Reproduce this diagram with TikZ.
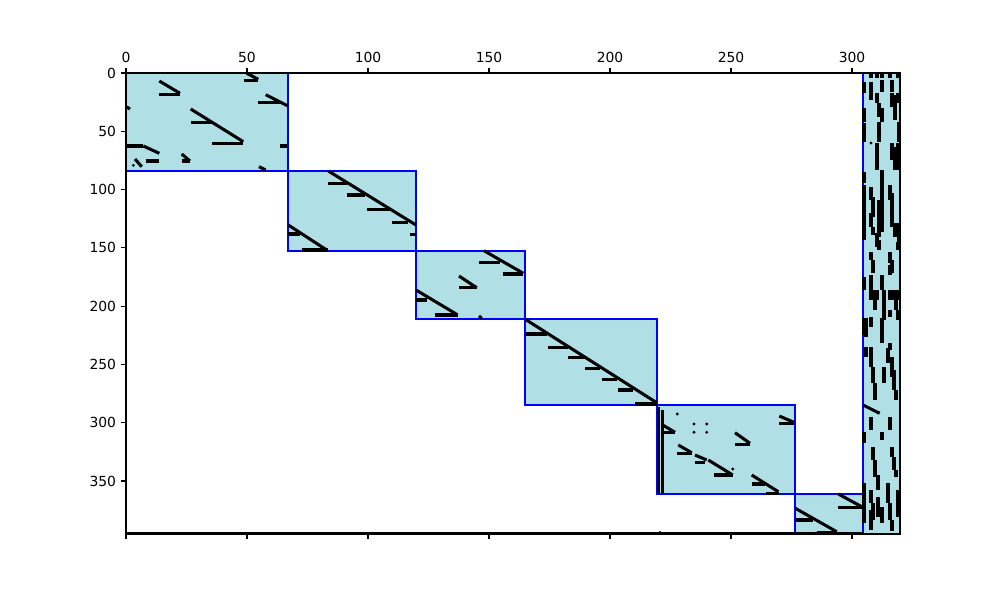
\documentclass[tikz,border=0pt]{standalone}
\usepackage{fontspec}
\setmainfont{DejaVu Sans}
\begin{document}
\begin{tikzpicture}[x=0.72pt,y=-0.72pt,font=\fontsize{10}{12}\selectfont]
\definecolor{pblue}{RGB}{176,224,230}
\tikzset{
  blk/.style={fill=pblue,draw=blue,line width=0.8pt},
  sp/.style={line width=2.2pt,black},
  spv/.style={line width=2.6pt,black},
  dotm/.style={fill=black,draw=none},
  axisline/.style={line width=0.8pt,black},
  tk/.style={line width=0.8pt,black},
  lbl/.style={inner sep=0pt,font=\fontsize{10}{12}\selectfont}
}
\useasboundingbox (0,0) rectangle (1000,600);
% blocks
\path[blk] (126,73) rectangle (288,171);
\path[blk] (288,171) rectangle (416,251);
\path[blk] (416,251) rectangle (525,319);
\path[blk] (525,319) rectangle (657,405);
\path[blk] (657,405) rectangle (795,494);
\path[blk] (795,494) rectangle (863,534);
\path[blk] (863,73) rectangle (900,534);
% sparsity segments
\foreach \a/\b/\c/\d in {
 246.7/73.3/258.3/79.3, 244.3/80.7/258.3/80.7, 159.3/81/180/93.3, 159.3/94.3/180/94.3,
 126.7/107/130/109, 265.7/94.7/287.3/105.7, 258.3/102.3/281.7/102.3,
 190.7/109/243.3/141.7, 190.7/122.3/213.3/122.3, 212.3/143.3/243.3/143.3,
 280.3/146/287.3/146, 126.7/146/143.3/146, 143.3/146/159.3/153.3,
 135/159/141.7/166.7, 145.7/161/159.3/161, 181.7/154/190/161, 181.7/161/190/161,
 259/166.7/265.7/170,
 328.3/171/416/225, 328.3/183.3/346.7/183.3, 346.7/195/365/195, 367.3/209.3/390/209.3,
 391.7/222.3/408.3/222.3, 410/234.3/416/234.3, 288.3/225/326.7/250, 288.3/234/300/234,
 301.7/250/328.3/250,
 484/250.7/523.3/273.3, 479/262.3/500/262.3, 502.7/274/523.3/274, 459/276/476.7/287.7,
 459/287.7/476.7/287.7, 416/290/456.7/314.3, 416/300/426.7/300, 435/315/458.3/315,
 479/316/481.7/318.3,
 525.3/319.3/656.7/402.7, 525.3/334/546.7/334, 548.3/347.3/568.3/347.3,
 568.3/357.3/585/357.3, 585/368.3/600/368.3, 601.7/379.3/616.7/379.3,
 618.3/390/633.3/390, 635/404/656.7/404,
 658.3/407/658.3/493, 662.3/410/662.3/493,
 662.7/425/675/432.3, 662.7/432.3/675/432.3, 779.3/416/794/422.3, 779.3/423.3/794/423.3,
 735/432.7/750/443.3, 735/444.3/750/444.3, 678.3/445/691.7/452.7, 676.7/453.3/691.7/453.3,
 695/455/706.7/460, 695/462.7/705/462.7, 708.3/460/732.7/475, 714/475/733.3/475,
 751.7/475/778.3/491.7, 751.7/484/765/484, 766/493.3/779.3/493.3,
 838.3/494/861.7/506.7, 837.7/507.3/861.7/507.3, 795.3/508.3/836.7/531.7,
 795.3/520/813.3/520, 816.7/532.7/836.7/532.7,
 863/405/879.7/413.3}
 {\draw[sp] (\a,\b) -- (\c,\d);}
\foreach \a/\b in {133.3/165.3, 677.3/414, 694/424, 706.7/424, 694/432.3, 706.7/432.3,
 732.7/469, 660/532.5}
 {\fill[dotm] (\a,\b) circle (1.6);}
% right column dashes
\foreach \a/\b/\c in {
 864/81.7/93.3, 864/108/122, 864/123/142, 864/172/183, 864/185/240, 864/277/290,
 864/318/335, 864/432/443, 864/483/523,
 866/318/337, 866/347/357,
 871/73/78, 871/82/100, 871/187/200, 871/213/227, 871/252/260, 871/275/300,
 871/317/327, 871/347/367, 871/417/430, 871/490/503, 871/510/530,
 873/197/217, 873/227/235, 873/260/273, 873/367/383, 873/447/460, 873/503/520,
 875/290/310, 875/383/400, 875/460/477,
 877/73/78, 877/93/103, 877/143/170, 877/233/247, 877/290/300,
 878/475/490, 878/497/517,
 879/103/117, 879/122/142, 879/200/237, 879/240/250,
 882/73/78, 882/80/92, 882/108/122, 882/170/232, 882/275/290, 882/318/343,
 882/432/440, 882/507/523,
 884/290/320, 884/367/383,
 888/348/363, 888/483/503,
 890/73/78, 890/185/200, 890/252/263, 890/265/275, 890/290/300, 890/310/317,
 890/343/350, 890/417/430, 890/503/520,
 892/80/92, 892/93/107, 892/143/160, 892/193/227, 892/260/273, 892/290/300,
 892/357/377, 892/447/457, 892/520/531,
 894/370/390, 894/457/470,
 895/95/120, 895/147/170, 895/223/237,
 896/290/310, 896/390/400, 896/470/477,
 898/73/78, 898/93/103, 898/143/167, 898/242/250, 898/290/300, 898/310/320, 898/490/517,
 899/122/142, 899/147/170, 899/223/243}
 {\draw[spv] (\a,\b) -- (\a,\c);}
\fill[dotm] (871,143) circle (1.6);
% last row
\draw[line width=1.4pt,black] (126,533) -- (863,533);
% axes frame
\draw[axisline] (126,73) rectangle (900,534);
% x ticks
\foreach \v in {0,50,...,300}{
  \pgfmathsetmacro{\px}{126+2.42*\v}
  \draw[tk] (\px,73) -- (\px,68.1);
  \draw[tk] (\px,534) -- (\px,538.9);
  \node[lbl,anchor=south] (xt\v) at (\px,63.2) {\v};
}
% y ticks
\foreach \v in {0,50,...,350}{
  \pgfmathsetmacro{\py}{73+1.1657*\v}
  \draw[tk] (126,\py) -- (121.1,\py);
  \node[lbl,anchor=east] (yt\v) at (116.3,\py) {\v};
}
\end{tikzpicture}
\end{document}
